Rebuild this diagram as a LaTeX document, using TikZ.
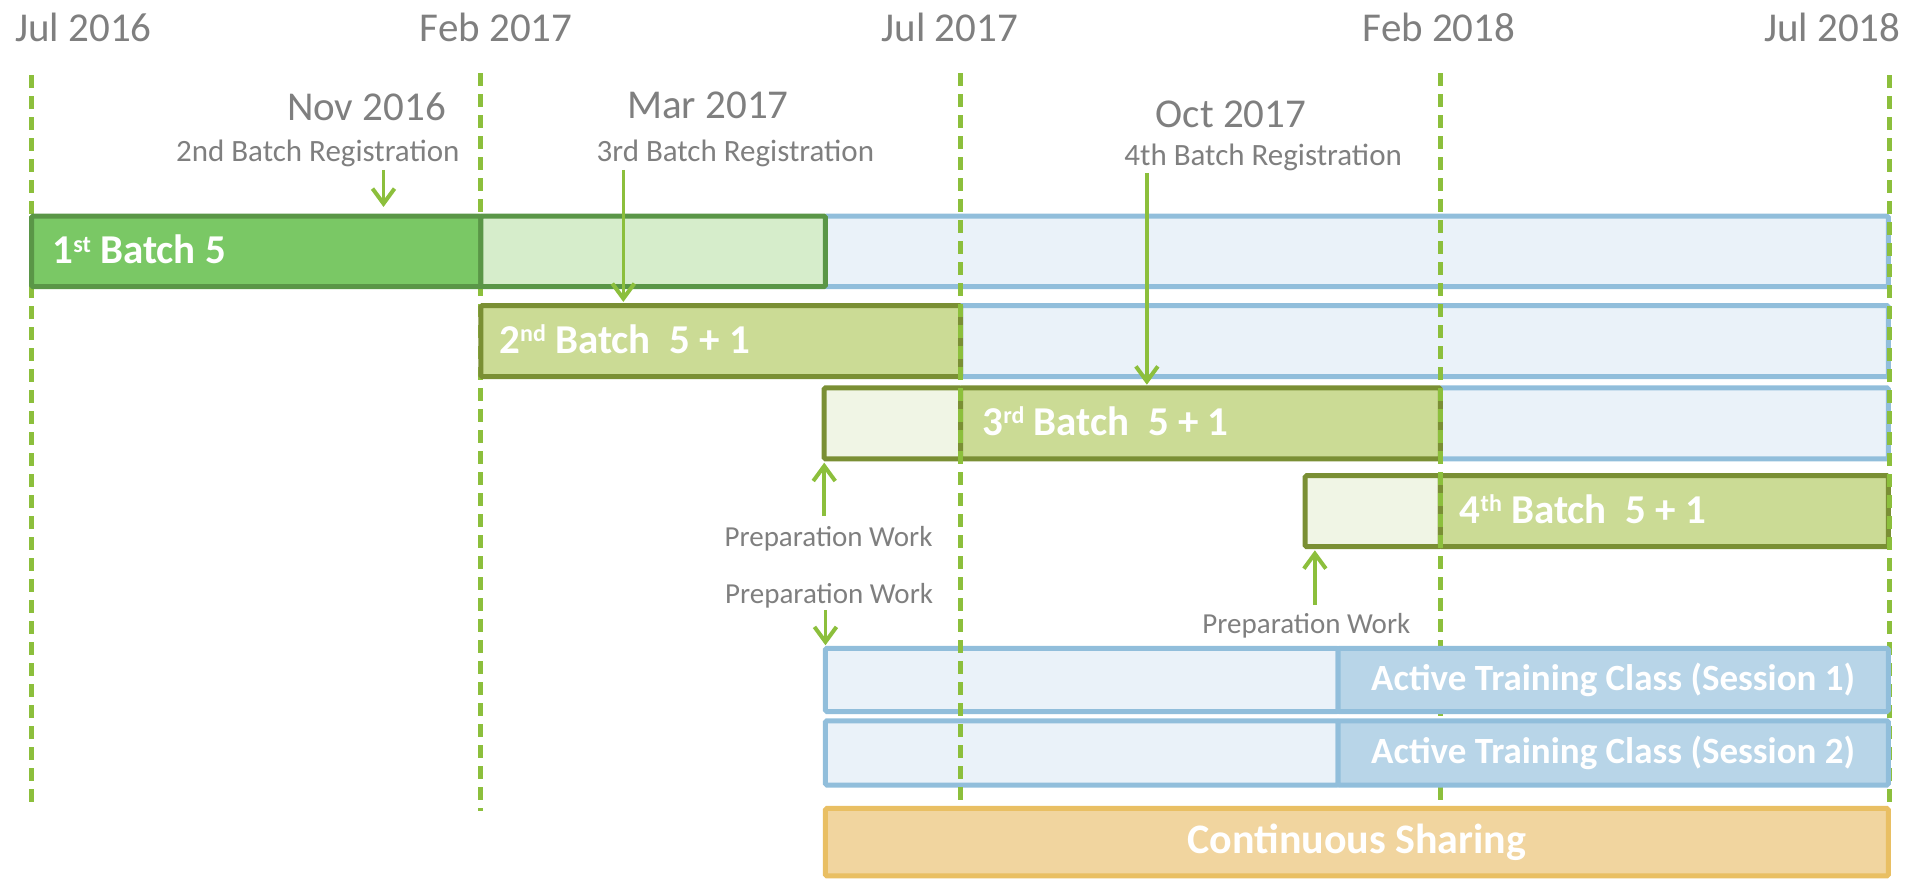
\documentclass[tikz,border=0pt]{standalone}
\usepackage{fontspec}
\setmainfont{Carlito}
\usetikzlibrary{arrows.meta,fit}
\definecolor{dashgreen}{HTML}{8CBF3C}
\definecolor{arrgreen}{HTML}{8CBF3C}
\definecolor{gonefill}{HTML}{7AC865}
\definecolor{goneline}{HTML}{5A9647}
\definecolor{glight}{HTML}{D6EDCB}
\definecolor{olfill}{HTML}{CBDB95}
\definecolor{olline}{HTML}{7A8F34}
\definecolor{prepfill}{HTML}{F0F5E5}
\definecolor{blfill}{HTML}{EAF2F9}
\definecolor{blline}{HTML}{91BEDB}
\definecolor{bdfill}{HTML}{B8D5E8}
\definecolor{orfill}{HTML}{F1D59F}
\definecolor{orline}{HTML}{E9BF63}
\definecolor{txtgray}{HTML}{7F7F7F}
\newcommand\supx[1]{\raisebox{11.5pt}{\fontsize{24}{24}\selectfont #1}}
\begin{document}
\begin{tikzpicture}[x=1.2175pt,y=-1.2175pt,
  box/.style={rectangle, inner sep=0pt, line width=5pt, rounded corners=1.5pt},
  firstbox/.style={box, fill=gonefill, draw=goneline},
  firstlight/.style={box, fill=glight, draw=goneline},
  olbox/.style={box, fill=olfill, draw=olline},
  prepbox/.style={box, fill=prepfill, draw=olline},
  bluebox/.style={box, fill=blfill, draw=blline},
  bluedark/.style={box, fill=bdfill, draw=blline},
  orbox/.style={box, fill=orfill, draw=orline},
  activelabel/.style={inner sep=0pt, text=white, font=\fontsize{37}{40}\selectfont\bfseries},
  sharelabel/.style={inner sep=0pt, text=white, font=\fontsize{42}{46}\selectfont\bfseries},
  boxlabel/.style={anchor=base west, inner sep=0pt, text=white, font=\fontsize{41}{45}\selectfont\bfseries},
  datelabel/.style={anchor=base, inner sep=0pt, text=txtgray, font=\fontsize{41}{45}\selectfont},
  smalllabel/.style={anchor=base, inner sep=0pt, text=txtgray, font=\fontsize{31}{34}\selectfont},
  preplabel/.style={anchor=base, inner sep=0pt, text=txtgray, font=\fontsize{29}{32}\selectfont},
  vline/.style={draw=dashgreen, line width=5pt, dash pattern=on 13pt off 8pt},
  arr/.style={draw=arrgreen, line width=3.5pt, -{Straight Barb[length=15pt, width=22pt, line width=4pt]}}
]
\useasboundingbox (0,0) rectangle (1568,722);

% light blue boxes
\node[bluebox, fit={(678,177.5) (1551,235.5)}] (r1c) {};
\node[bluebox, fit={(789,251) (1551,309.4)}] (r2b) {};
\node[bluebox, fit={(1183,318.5) (1551,377)}] (r3c) {};
\node[bluebox, fit={(678,532.5) (1099,584.5)}] (r5a) {};
\node[bluebox, fit={(678,592) (1099,644.8)}] (r6a) {};

% dashed month lines (first two under the boxes)
\coordinate (t1) at (26,62);   \coordinate (e1) at (26,664);
\coordinate (t2) at (395,60);  \coordinate (e2) at (395,666);
\coordinate (t3) at (789,60);  \coordinate (e3) at (789,662);
\coordinate (t4) at (1183,60); \coordinate (e4) at (1183,662);
\coordinate (t5) at (1552,62); \coordinate (e5) at (1552,664);
\draw[vline] (t1) -- (e1);
\draw[vline] (t2) -- (e2);

% batch boxes
\node[firstbox, fit={(26,177.5) (395,235.5)}] (r1a) {};
\node[firstlight, fit={(395,177.5) (678,235.5)}] (r1b) {};
\node[olbox, fit={(395,251) (789,309.4)}] (r2a) {};
\node[prepbox, fit={(677,318.5) (789,377)}] (r3a) {};
\node[olbox, fit={(789,318.5) (1183,377)}] (r3b) {};
\node[prepbox, fit={(1072,390.7) (1183,449)}] (r4a) {};
\node[olbox, fit={(1183,390.7) (1551,449)}] (r4b) {};

% remaining dashed lines over the batch boxes
\draw[vline] (t3) -- (e3);
\draw[vline] (t4) -- (e4);
\draw[vline] (t5) -- (e5);

% training and sharing boxes
\node[bluedark, fit={(1099,532.5) (1551,584.5)}] (r5b) {};
\node[bluedark, fit={(1099,592) (1551,644.8)}] (r6b) {};
\node[orbox, fit={(678,664) (1551,719.5)}] (r7) {};
\node[activelabel] (l5) at (r5b.center) {Active Training Class (Session 1)};
\node[activelabel] (l6) at (r6b.center) {Active Training Class (Session 2)};
\node[sharelabel] (l7) at (r7.center) {Continuous Sharing};

% batch labels
\node[boxlabel] (l1) at (43,216.5) {1\supx{st} Batch 5};
\node[boxlabel] (l2) at (410,290.2) {2\supx{nd} Batch\ \ 5 + 1};
\node[boxlabel] (l3) at (807,357.7) {3\supx{rd} Batch\ \ 5 + 1};
\node[boxlabel] (l4) at (1199,429.8) {4\supx{th} Batch\ \ 5 + 1};

% top dates
\node[datelabel] (d1) at (68.5,34) {Jul 2016};
\node[datelabel] (d2) at (407.5,34) {Feb 2017};
\node[datelabel] (d3) at (780,34) {Jul 2017};
\node[datelabel] (d4) at (1182,34) {Feb 2018};
\node[datelabel] (d5) at (1505,34) {Jul 2018};

% registration labels
\node[datelabel] (m1) at (301,99) {Nov 2016};
\node[smalllabel] (s1) at (261,133) {2nd Batch Registration};
\node[datelabel] (m2) at (581.5,97) {Mar 2017};
\node[smalllabel] (s2) at (604,133) {3rd Batch Registration};
\node[datelabel] (m3) at (1011,105) {Oct 2017};
\node[smalllabel] (s3) at (1037.5,136) {4th Batch Registration};

% preparation labels
\node[preplabel] (p1) at (680.5,449) {Preparation Work};
\node[preplabel] (p2) at (681,496) {Preparation Work};
\node[preplabel] (p3) at (1073,520) {Preparation Work};

% arrows
\coordinate (a1) at (315,139.5);
\coordinate (a1e) at (315,170);
\draw[arr] (a1) -- (a1e);
\coordinate (a2) at (512,139.5);
\coordinate (a2e) at (512,248);
\draw[arr] (a2) -- (a2e);
\coordinate (a3) at (942,142);
\coordinate (a3e) at (942,316);
\draw[arr] (a3) -- (a3e);
\coordinate (a4) at (677,424);
\coordinate (a4e) at (677,380);
\draw[arr] (a4) -- (a4e);
\coordinate (a5) at (1080,497);
\coordinate (a5e) at (1080,452);
\draw[arr] (a5) -- (a5e);
\coordinate (a6) at (678,501);
\coordinate (a6e) at (678,530);
\draw[arr] (a6) -- (a6e);
\end{tikzpicture}
\end{document}
